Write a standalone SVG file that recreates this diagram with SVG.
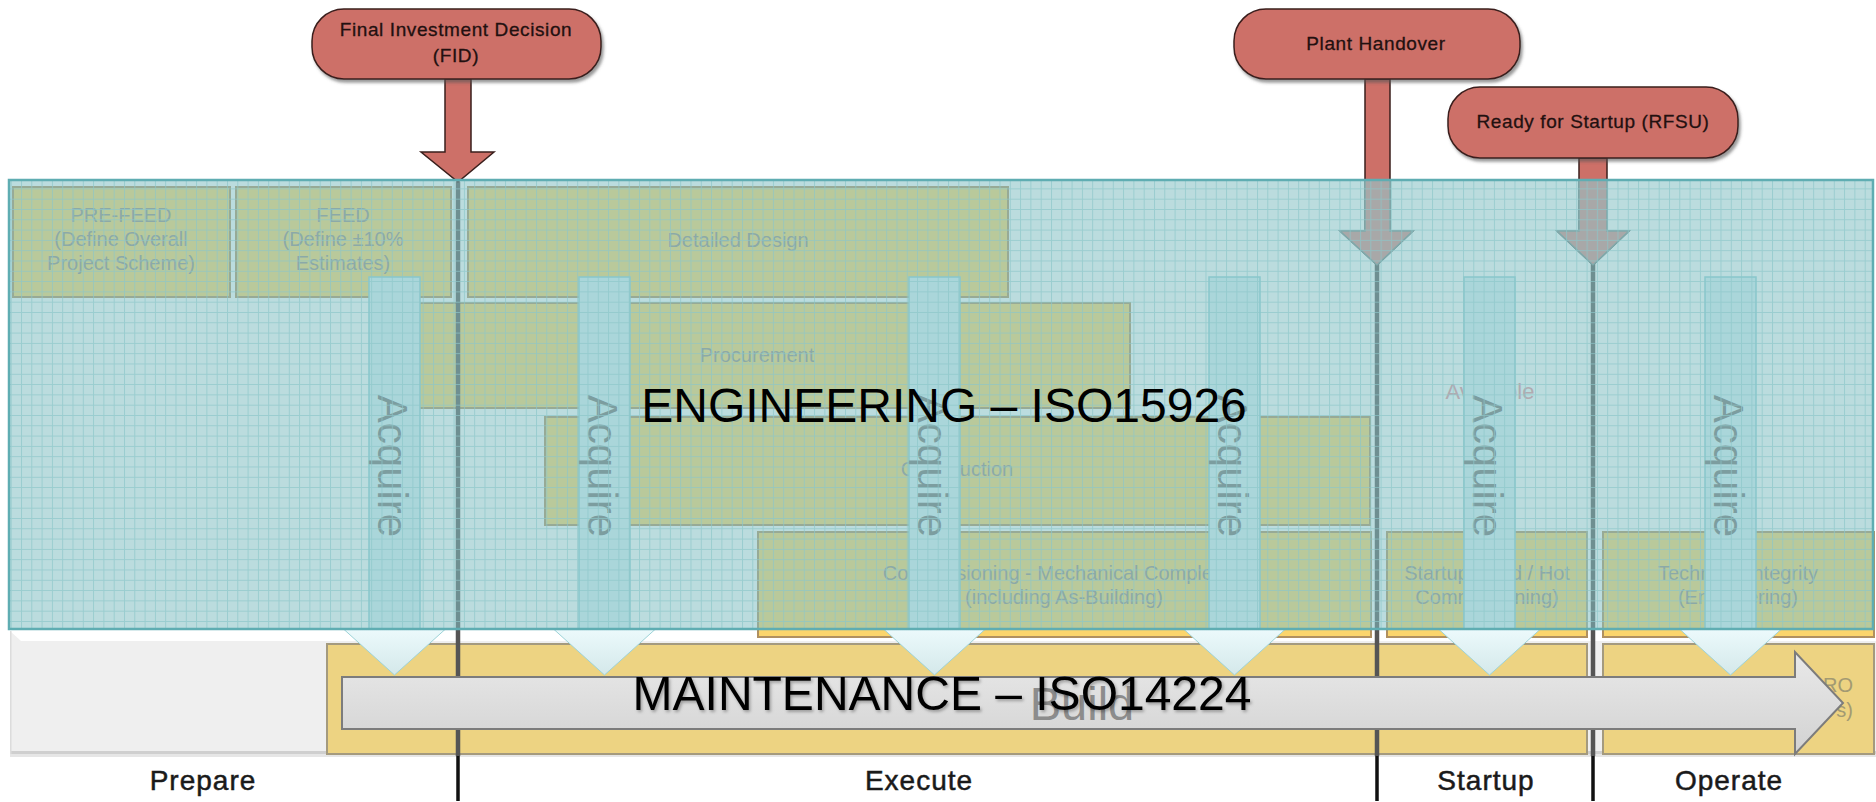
<svg xmlns="http://www.w3.org/2000/svg" width="1876" height="802" viewBox="0 0 1876 802">
<style>
text{font-family:"Liberation Sans",Arial,sans-serif}
.pill{fill:#CD7068;stroke:#3a1f1c;stroke-width:1.5;filter:url(#sh)}
.pt{font-size:19px;fill:#221010;text-anchor:middle;letter-spacing:0.6px;stroke:#221010;stroke-width:0.3px}
.ms{fill:#CD7068;stroke:#3a1f1c;stroke-width:1.5}
.msi{fill:#D68C88;stroke:#7a8e8e;stroke-width:1.5}
.box{fill:#FBD56C;stroke:#b09060;stroke-width:2}
.bt{font-size:20px;fill:#968e88;text-anchor:middle}
.bar{fill:#DAF2F7;stroke:#8fcfd6;stroke-width:1.5}
.tri{fill:url(#tg);stroke:#9dd3d8;stroke-width:1}
.acq{font-size:42px;fill:#747474;text-anchor:middle}
.pl{stroke:#555;stroke-width:4.5;fill:none}
.pb{stroke:#111;stroke-width:3.5;fill:none}
.yb{fill:#EDD382;stroke:#a49a7e;stroke-width:2}
.big{font-size:48px;fill:#000;text-anchor:middle}
.ph{font-size:28px;fill:#1a1a1a;text-anchor:middle;letter-spacing:1px;stroke:#1a1a1a;stroke-width:0.5px}
</style>
<defs>
<filter id="sh" x="-10%" y="-20%" width="130%" height="150%"><feDropShadow dx="2" dy="3" stdDeviation="1.5" flood-color="#555" flood-opacity="0.6"/></filter>
<filter id="ts" x="-5%" y="-20%" width="110%" height="150%"><feDropShadow dx="1.5" dy="2" stdDeviation="1.5" flood-color="#000" flood-opacity="0.3"/></filter>
<pattern id="grid" width="10.3" height="10.3" patternUnits="userSpaceOnUse" x="10.7" y="178.1"><path d="M0 0.5H10.3M0.5 0V10.3" stroke="#8cc6ca" stroke-width="1" fill="none" opacity="0.7"/></pattern>
<linearGradient id="tg" x1="0" y1="0" x2="0" y2="1"><stop offset="0" stop-color="#ecfafc"/><stop offset="1" stop-color="#d4e8ea"/></linearGradient>
<linearGradient id="ag" x1="0" y1="0" x2="0" y2="1"><stop offset="0" stop-color="#e9e9e9"/><stop offset="1" stop-color="#d2d2d2"/></linearGradient>
<clipPath id="inov"><rect x="9" y="181" width="1864" height="448"/></clipPath>
</defs>
<rect x="0" y="0" width="1876" height="802" fill="#fff"/>

<g id="base-band">
<rect x="10" y="631" width="1866" height="123" fill="#efefef"/>
<polygon points="10,631 1876,631 1876,641 21,641" fill="#fff"/>
<rect x="10" y="751" width="1866" height="3" fill="#cfcfcf"/>
<rect x="10" y="754" width="1866" height="3" fill="#e6e6e6"/>
<rect x="10" y="631" width="1.5" height="123" fill="#dcdcdc"/>
</g>

<g id="build">
<rect class="yb" x="327" y="644" width="1260" height="110"/>
</g>
<g id="operate-band">
<rect class="yb" x="1603" y="644" width="271" height="110"/>
<text x="1853" y="692" font-size="20" fill="#a39a72" text-anchor="end">RO</text>
<text x="1853" y="717" font-size="20" fill="#a39a72" text-anchor="end">s)</text>
</g>

<g id="pre-feed"><rect class="box" x="13" y="187" width="217" height="110"/>
<text class="bt" x="121" y="222">PRE-FEED</text><text class="bt" x="121" y="246">(Define Overall</text><text class="bt" x="121" y="270">Project Scheme)</text></g>
<g id="feed"><rect class="box" x="236" y="187" width="215" height="110"/>
<text class="bt" x="343" y="222">FEED</text><text class="bt" x="343" y="246">(Define ±10%</text><text class="bt" x="343" y="270">Estimates)</text></g>
<g id="detailed-design"><rect class="box" x="468" y="187" width="540" height="110"/>
<text class="bt" x="738" y="247">Detailed Design</text></g>
<g id="procurement"><rect class="box" x="385" y="303" width="745" height="105"/>
<text class="bt" x="757" y="362">Procurement</text></g>
<g id="construction"><rect class="box" x="545" y="417" width="825" height="108"/>
<text class="bt" x="957" y="476">Construction</text></g>
<g id="commissioning"><rect class="box" x="758" y="532" width="613" height="105"/>
<text class="bt" x="1064" y="580">Commissioning - Mechanical Completion</text><text class="bt" x="1064" y="604">(including As-Building)</text></g>
<g id="startup-box"><rect class="box" x="1387" y="532" width="200" height="105"/>
<text class="bt" x="1487" y="580">Startup (Cold / Hot</text><text class="bt" x="1487" y="604">Commissioning)</text></g>
<g id="technical-integrity"><rect class="box" x="1603" y="532" width="271" height="105"/>
<text class="bt" x="1738" y="580">Technical Integrity</text><text class="bt" x="1738" y="604">(Engineering)</text></g>
<g id="available"><text x="1490" y="399" font-size="22" fill="#E8909A" text-anchor="middle">Available</text></g>

<g id="connectors">
<path class="pl" d="M458 182V756M1377 263V756M1593 263V756"/>
<polygon class="ms" points="445,79 471,79 471,152 494,152 458,182 421,152 445,152"/>
<polygon class="ms" points="1365,79 1390,79 1390,231 1413,231 1377,265 1340,231 1365,231"/>
<polygon class="ms" points="1579,158 1607,158 1607,231 1629,231 1593,265 1557,231 1579,231"/>
<g clip-path="url(#inov)">
<polygon class="msi" points="1365,79 1390,79 1390,231 1413,231 1377,265 1340,231 1365,231"/>
<polygon class="msi" points="1579,158 1607,158 1607,231 1629,231 1593,265 1557,231 1579,231"/>
</g>
</g>

<g id="acquire-1"><rect class="bar" x="369" y="277" width="51" height="352"/><polygon class="tri" points="343.5,629 445.5,629 394.5,675"/><text class="acq" transform="translate(378 466) rotate(90)">Acquire</text></g>
<g id="acquire-2"><rect class="bar" x="579" y="277" width="51" height="352"/><polygon class="tri" points="553.5,629 655.5,629 604.5,675"/><text class="acq" transform="translate(588 466) rotate(90)">Acquire</text></g>
<g id="acquire-3"><rect class="bar" x="909" y="277" width="51" height="352"/><polygon class="tri" points="883.5,629 985.5,629 934.5,675"/><text class="acq" transform="translate(918 466) rotate(90)">Acquire</text></g>
<g id="acquire-4"><rect class="bar" x="1209" y="277" width="51" height="352"/><polygon class="tri" points="1183.5,629 1285.5,629 1234.5,675"/><text class="acq" transform="translate(1218 466) rotate(90)">Acquire</text></g>
<g id="acquire-5"><rect class="bar" x="1464" y="277" width="51" height="352"/><polygon class="tri" points="1438.5,629 1540.5,629 1489.5,675"/><text class="acq" transform="translate(1473 466) rotate(90)">Acquire</text></g>
<g id="acquire-6"><rect class="bar" x="1705" y="277" width="51" height="352"/><polygon class="tri" points="1679.5,629 1781.5,629 1730.5,675"/><text class="acq" transform="translate(1714 466) rotate(90)">Acquire</text></g>

<g id="engineering-overlay">
<rect x="9" y="180" width="1864" height="449" fill="#83BFC3" opacity="0.55"/>
<rect x="9" y="180" width="1864" height="449" fill="url(#grid)"/>
<rect x="9" y="180" width="1864" height="449" fill="none" stroke="#5fadb2" stroke-width="2.5"/>
</g>

<g id="fid"><rect class="pill" x="312" y="9" width="289" height="70" rx="32"/>
<text class="pt" x="456" y="36">Final Investment Decision</text><text class="pt" x="456" y="62">(FID)</text></g>
<g id="plant-handover"><rect class="pill" x="1234" y="9" width="286" height="70" rx="32"/>
<text class="pt" x="1376" y="50">Plant Handover</text></g>
<g id="rfsu"><rect class="pill" x="1448" y="87" width="290" height="71" rx="32"/>
<text class="pt" x="1593" y="128">Ready for Startup (RFSU)</text></g>

<g id="phase-ticks"><path class="pb" d="M458 756V801M1377 756V801M1593 756V801"/></g>

<g id="lifecycle-arrow">
<polygon points="342,677 1795,677 1795,652 1843,703 1795,754 1795,729 342,729" fill="url(#ag)" stroke="#7c7c7c" stroke-width="2"/>
<text x="1082" y="720" font-size="47" fill="#8c8c8c" text-anchor="middle">Build</text>
</g>

<g id="titles">
<text class="big" x="944" y="422" font-size="47">ENGINEERING – ISO15926</text>
<text class="big" x="942" y="710" filter="url(#ts)">MAINTENANCE – ISO14224</text>
</g>

<g id="phases">
<text class="ph" x="203" y="790">Prepare</text>
<text class="ph" x="919" y="790">Execute</text>
<text class="ph" x="1486" y="790">Startup</text>
<text class="ph" x="1729" y="790">Operate</text>
</g>
</svg>
